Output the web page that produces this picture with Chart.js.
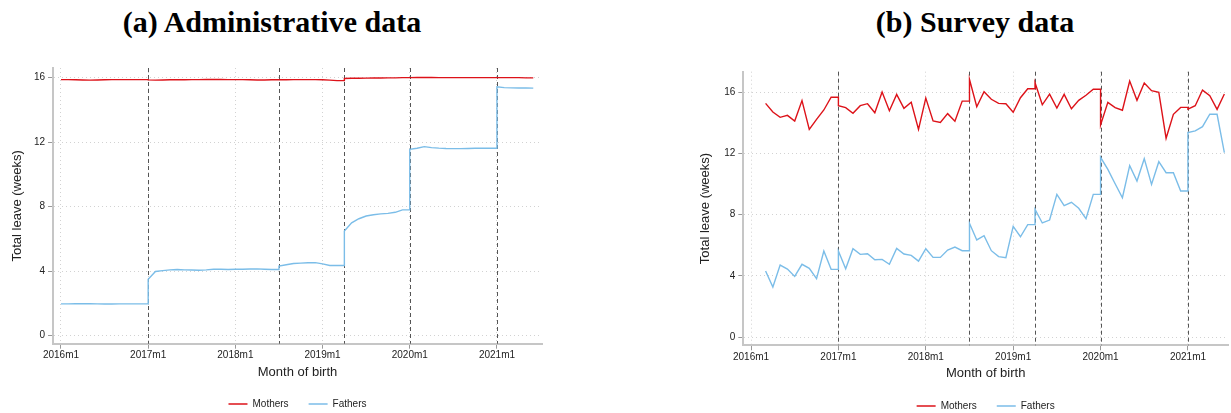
<!DOCTYPE html>
<html>
<head>
<meta charset="utf-8">
<script src="https://cdn.jsdelivr.net/npm/chart.js@4.4.1/dist/chart.umd.min.js"></script>
<style>
  html, body { margin: 0; padding: 0; background: #fff; overflow: hidden; width: 1231px; height: 413px; }
  .panel { position: absolute; top: 0; }
  .title { position: absolute; top: 7px; width: 500px; text-align: center; white-space: nowrap;
           font-family: "Liberation Serif", serif; font-weight: bold; font-size: 30px; line-height: 30px; color: #000; }
</style>
</head>
<body>
<div class="title" style="left:22px">(a) Administrative data</div>
<div class="title" style="left:725px">(b) Survey data</div>
<div class="panel" style="left:0"><canvas id="admin" width="620" height="419"></canvas></div>
<div class="panel" style="left:620px"><canvas id="survey" width="611" height="421"></canvas></div>
<script>
// Month index 0 = 2016m1
const yearTicks = [0, 12, 24, 36, 48, 60];
const yearLabels = ['2016m1', '2017m1', '2018m1', '2019m1', '2020m1', '2021m1'];
const leaveTicks = [0, 4, 8, 12, 16];
// Reform months: 2017m1, 2018m7, 2019m4, 2020m1, 2021m1
const cutoffs = [12, 30, 39, 48, 60];

// Administrative data, 2016m1 - 2021m6
const adminStart = 0;
const adminMothers = [
  15.88, 15.88, 15.87, 15.86, 15.85, 15.86, 15.87, 15.88, 15.88, 15.88, 15.88, 15.88,
  15.86, 15.85, 15.86, 15.87, 15.87, 15.87, 15.88, 15.88, 15.89, 15.89, 15.89, 15.88,
  15.88, 15.88, 15.87, 15.86, 15.86, 15.87, 15.87, 15.87, 15.88, 15.88, 15.88, 15.88,
  15.87, 15.85, 15.82, 15.95, 15.96, 15.96, 15.97, 15.98, 15.98, 15.99, 15.99, 16.00,
  16.00, 16.01, 16.01, 16.01, 16.00, 16.00, 16.00, 16.00, 16.00, 16.00, 16.00, 16.00,
  16.00, 16.00, 16.00, 16.00, 15.99, 15.99
];
const adminFathers = [
  1.97, 1.97, 1.98, 1.98, 1.98, 1.97, 1.96, 1.96, 1.97, 1.97, 1.97, 1.97,
  3.50, 3.98, 4.03, 4.08, 4.10, 4.08, 4.07, 4.06, 4.08, 4.12, 4.12, 4.10,
  4.12, 4.12, 4.13, 4.14, 4.12, 4.10, 4.32, 4.40, 4.47, 4.50, 4.52, 4.53,
  4.45, 4.35, 4.35, 6.49, 7.00, 7.25, 7.42, 7.50, 7.55, 7.58, 7.65, 7.80,
  11.56, 11.62, 11.72, 11.66, 11.63, 11.61, 11.60, 11.60, 11.61, 11.62, 11.62, 11.62,
  15.44, 15.38, 15.37, 15.36, 15.36, 15.35
];

// Survey data, 2016m3 - 2021m6
const surveyStart = 2;
const surveyMothers = [
  15.26, 14.70, 14.35, 14.48, 14.11, 15.44, 13.56, 14.22, 14.83, 15.66,
  15.11, 14.98, 14.61, 15.11, 15.24, 14.65, 16.00, 14.78, 15.85, 14.94, 15.33, 13.56,
  15.61, 14.11, 14.02, 14.59, 14.09, 15.41, 16.83, 15.04, 16.02, 15.53, 15.26, 15.24,
  14.68, 15.63, 16.22, 16.61, 15.17, 15.87, 14.96, 15.85, 14.91, 15.46, 15.79, 16.18,
  13.85, 15.33, 14.98, 14.81, 16.72, 15.46, 16.59, 16.09, 15.98, 12.98, 14.55, 15.00,
  14.89, 15.11, 16.13, 15.76, 14.87, 15.87
];
const surveyFathers = [
  4.31, 3.27, 4.70, 4.44, 3.96, 4.75, 4.49, 3.81, 5.62, 4.42,
  5.62, 4.46, 5.77, 5.40, 5.44, 5.05, 5.07, 4.75, 5.79, 5.42, 5.33, 4.96,
  5.77, 5.20, 5.20, 5.68, 5.88, 5.64, 7.43, 6.34, 6.62, 5.64, 5.25, 5.18,
  7.23, 6.55, 7.34, 8.34, 7.45, 7.64, 9.32, 8.58, 8.80, 8.41, 7.73, 9.32,
  11.74, 10.95, 10.01, 9.10, 11.19, 10.19, 11.65, 9.97, 11.45, 10.73, 10.73, 9.54,
  13.35, 13.46, 13.74, 14.55, 14.55, 12.04
];

const RED = '#dd1219';
const BLUE = '#7bbde8';
const FONT = 'Liberation Sans, Arial, sans-serif';

// Each segment is carried flat to the reform month, then steps to the new level
function toPoints(start, values) {
  const pts = [];
  values.forEach((v, i) => {
    const m = start + i;
    if (i > 0 && cutoffs.includes(m)) pts.push({ x: m, y: values[i - 1] });
    pts.push({ x: m, y: v });
  });
  return pts;
}

// Dashed vertical reference lines at the reform months
const cutoffLines = {
  id: 'cutoffLines',
  beforeDatasetsDraw(chart) {
    const { ctx, chartArea, scales: { x } } = chart;
    ctx.save();
    ctx.strokeStyle = '#555';
    ctx.lineWidth = 1;
    ctx.setLineDash([4, 3]);
    cutoffs.forEach(c => {
      const px = Math.round(x.getPixelForValue(c)) + 0.5;
      ctx.beginPath();
      ctx.moveTo(px, chartArea.top);
      ctx.lineTo(px, chartArea.bottom);
      ctx.stroke();
    });
    ctx.restore();
  }
};

function makeChart(id, c) {
  return new Chart(document.getElementById(id), {
    type: 'line',
    data: {
      datasets: [
        { label: 'Mothers', data: toPoints(c.start, c.mothers), borderColor: RED, backgroundColor: RED,
          borderWidth: 1.4, pointRadius: 0, tension: 0 },
        { label: 'Fathers', data: toPoints(c.start, c.fathers), borderColor: BLUE, backgroundColor: BLUE,
          borderWidth: 1.4, pointRadius: 0, tension: 0 }
      ]
    },
    options: {
      responsive: false,
      animation: false,
      events: [],
      layout: { padding: { top: c.top, left: 0, right: c.right, bottom: 0 } },
      scales: {
        x: {
          type: 'linear', min: c.xmin, max: c.xmax,
          afterBuildTicks: s => { s.ticks = yearTicks.map(v => ({ value: v })); },
          afterFit: s => { s.height = c.xAxisH; },
          ticks: { autoSkip: false, maxRotation: 0, padding: 1, color: '#222',
                   font: { family: FONT, size: 10 },
                   callback: (v, i) => yearLabels[i] },
          grid: { color: '#d2d2d2', lineWidth: 1, tickLength: 5, tickColor: '#999', tickWidth: 1 },
          border: { color: '#c6c6c6', width: 2, dash: [1, 3] },
          title: { display: true, text: 'Month of birth', color: '#222',
                   font: { family: FONT, size: 13, lineHeight: 1 }, padding: { top: 0, bottom: c.xTitlePad } }
        },
        y: {
          type: 'linear', min: c.ymin, max: c.ymax,
          afterBuildTicks: s => { s.ticks = leaveTicks.map(v => ({ value: v })); },
          afterFit: s => { s.width = c.yAxisW; },
          ticks: { padding: 3, color: '#222', font: { family: FONT, size: 10 },
                   callback: v => String(v) },
          grid: { color: '#d2d2d2', lineWidth: 1, tickLength: 5, tickColor: '#999', tickWidth: 1 },
          border: { color: '#c6c6c6', width: 2, dash: [1, 3] },
          title: { display: true, text: 'Total leave (weeks)', color: '#222',
                   font: { family: FONT, size: 13, lineHeight: 1 }, padding: { top: c.yTitlePad, bottom: 0 } }
        }
      },
      plugins: {
        legend: {
          position: 'bottom', fullSize: false,
          labels: {
            boxWidth: 19, boxHeight: 1.5, padding: 20, color: '#222',
            font: { family: FONT, size: 10 },
            generateLabels: ch => Chart.defaults.plugins.legend.labels.generateLabels(ch)
              .map(l => Object.assign(l, { lineWidth: 0 }))
          }
        },
        tooltip: { enabled: false }
      }
    },
    plugins: [cutoffLines]
  });
}

makeChart('admin', {
  start: adminStart, mothers: adminMothers, fathers: adminFathers,
  xmin: -1.1, xmax: 66.2, ymin: -0.5, ymax: 16.6,
  top: 68, right: 78, yAxisW: 53, xAxisH: 35.3, xTitlePad: 0.2, yTitlePad: 10.5
});

makeChart('survey', {
  start: surveyStart, mothers: surveyMothers, fathers: surveyFathers,
  xmin: -1.06, xmax: 65.5, ymin: -0.54, ymax: 17.33,
  top: 71.7, right: 3, yAxisW: 123.3, xAxisH: 35.7, xTitlePad: 1.2, yTitlePad: 78.5
});
</script>
</body>
</html>
